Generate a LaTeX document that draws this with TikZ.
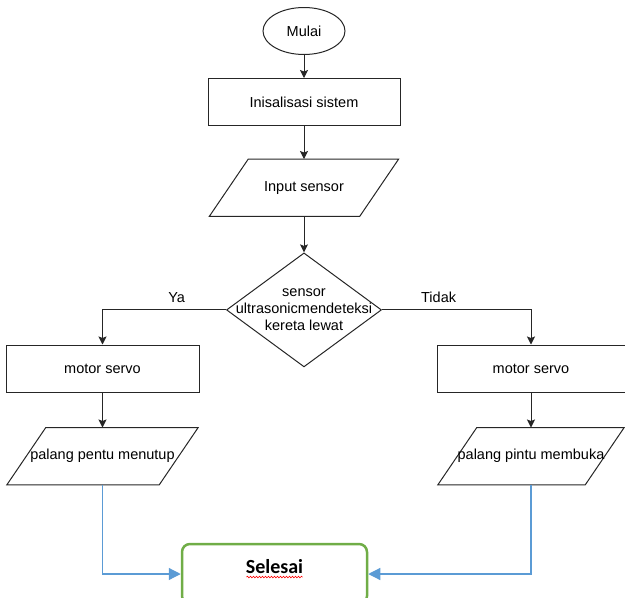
\documentclass[tikz,border=0pt]{standalone}
\usepackage{fontspec}
\setmainfont{Liberation Sans}
\newfontfamily\selesaifont{Carlito}
\usetikzlibrary{shapes.geometric,arrows.meta,positioning,decorations.pathmorphing}
\definecolor{biru}{HTML}{5B9BD5}
\definecolor{hijau}{HTML}{70AD47}

\begin{document}
\begin{tikzpicture}[
  x=1pt, y=-1pt,
  font=\fontsize{14.5}{17}\selectfont,
  garis/.style={draw=black!85, line width=1pt},
  terminal/.style={garis, ellipse, minimum width=82pt, minimum height=47pt, inner sep=0pt},
  proses/.style={garis, rectangle, minimum width=192pt, minimum height=47pt, inner sep=0pt},
  io/.style={rectangle, minimum width=150pt, minimum height=57pt, inner sep=0pt,
    append after command={\pgfextra{\draw[garis] ([xshift=19.5pt]\tikzlastnode.north west) -- ([xshift=19.5pt]\tikzlastnode.north east)
      -- ([xshift=-19.5pt]\tikzlastnode.south east) -- ([xshift=-19.5pt]\tikzlastnode.south west) -- cycle;}}},
  keputusan/.style={garis, diamond, minimum width=155pt, minimum height=114pt, inner sep=0pt},
  selesaibox/.style={draw=hijau, line width=2.5pt, rounded corners=8pt, minimum width=185pt, minimum height=60pt, text depth=16pt, font=\selesaifont\bfseries\fontsize{20}{24}\selectfont},
  arr/.style={garis, -{Stealth[length=8pt,width=8pt,inset=1.5pt]}},
  barr/.style={draw=biru, line width=1.2pt, -{Triangle[length=12pt,width=12pt]}}
]
  \useasboundingbox (0,0) rectangle (625,598);
  \node[terminal] (mulai) at (304,31) {Mulai};
  \node[proses, below=23pt of mulai] (inisialisasi) {Inisalisasi sistem};
  \node[io, below=33pt of inisialisasi] (input) {Input sensor};
  \node[keputusan, below=36pt of input] (sensor) {};
  \node[align=center] (sensortxt) at (sensor) {sensor\\ultrasonicmendeteksi\\kereta lewat};
  \node[proses, minimum width=193pt] (servoya) at (102.5,368.5) {motor servo};
  \node[proses, minimum width=188pt] (servotidak) at (531,368.5) {motor servo};
  \node[io, minimum width=152pt, below=35pt of servoya] (palangya) {palang pentu menutup};
  \node[io, minimum width=147pt, below=35pt of servotidak] (palangtidak) {palang pintu membuka};
  \node[selesaibox] (selesai) at (274.5,574) {Selesai};
  \draw[arr] (mulai) -- (inisialisasi);
  \draw[arr] (inisialisasi) -- (input);
  \draw[arr] (input) -- (sensor);
  \draw[arr] (sensor.west) -| node[pos=0.2, above=3pt] (ya) {Ya} (servoya);
  \draw[arr] (sensor.east) -| node[pos=0.19, above=3pt] (tidak) {Tidak} (servotidak);
  \draw[arr] (servoya) -- (palangya);
  \draw[arr] (servotidak) -- (palangtidak);
  \draw[barr] (palangya.south) |- (selesai.west);
  \draw[barr] (palangtidak.south) |- (selesai.east);
  \draw[red, line width=0.6pt, decorate, decoration={snake, amplitude=0.8pt, segment length=3pt}] ([xshift=-28pt,yshift=-4pt]selesai.base) -- ([xshift=28pt,yshift=-4pt]selesai.base);
\end{tikzpicture}
\end{document}
